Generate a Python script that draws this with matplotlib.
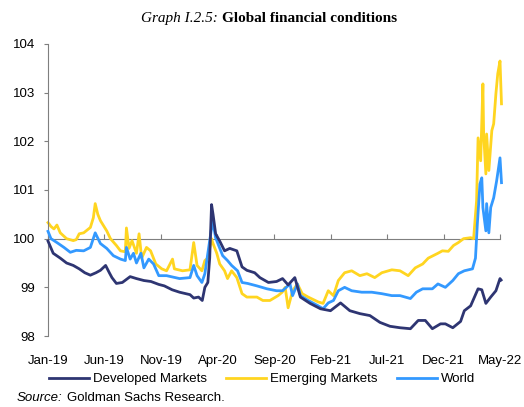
import matplotlib
matplotlib.use("Agg")
import matplotlib.pyplot as plt
import pandas as pd

plt.rcParams['font.family'] = ['Liberation Sans', 'DejaVu Sans']

# Developed Markets
dm_dates = ['2019-01-01', '2019-01-15', '2019-02-03', '2019-02-20', '2019-03-10', '2019-03-26',
            '2019-04-10', '2019-04-25', '2019-05-10', '2019-05-22', '2019-06-05', '2019-06-15',
            '2019-06-22', '2019-07-04', '2019-07-20', '2019-08-10', '2019-08-27', '2019-09-16',
            '2019-10-05', '2019-10-26', '2019-11-10', '2019-12-01', '2019-12-21', '2020-01-18',
            '2020-01-28', '2020-02-10', '2020-02-20', '2020-02-27', '2020-03-06', '2020-03-11',
            '2020-03-16', '2020-03-20', '2020-03-27', '2020-04-07', '2020-04-20', '2020-05-04',
            '2020-05-23', '2020-06-06', '2020-06-19', '2020-07-10', '2020-07-24', '2020-08-16',
            '2020-09-07', '2020-09-23', '2020-10-08', '2020-10-26', '2020-11-10', '2020-12-06',
            '2021-01-03', '2021-01-30', '2021-02-26', '2021-03-23', '2021-04-19', '2021-05-16',
            '2021-06-12', '2021-07-09', '2021-08-05', '2021-09-02', '2021-09-23', '2021-10-12',
            '2021-10-31', '2021-11-22', '2021-12-05', '2021-12-25', '2022-01-15', '2022-01-25',
            '2022-02-11', '2022-03-03', '2022-03-13', '2022-03-24', '2022-04-06', '2022-04-20',
            '2022-05-01', '2022-05-04']
dm_values = [99.95, 99.7, 99.6, 99.5, 99.45, 99.38,
             99.3, 99.25, 99.3, 99.35, 99.45, 99.3,
             99.2, 99.08, 99.1, 99.22, 99.18, 99.14,
             99.12, 99.06, 99.03, 98.95, 98.9, 98.85,
             98.78, 98.8, 98.73, 99.0, 99.1, 99.6,
             100.7, 100.5, 100.1, 99.95, 99.75, 99.8,
             99.75, 99.42, 99.35, 99.3, 99.2, 99.1,
             99.12, 99.18, 99.05, 99.2, 98.8, 98.67,
             98.56, 98.52, 98.68, 98.52, 98.46, 98.42,
             98.28, 98.2, 98.17, 98.15, 98.32, 98.32,
             98.15, 98.25, 98.25, 98.17, 98.3, 98.52,
             98.62, 98.97, 98.95, 98.67, 98.8, 98.93,
             99.18, 99.15]

# Emerging Markets
em_dates = ['2019-01-01', '2019-01-09', '2019-01-17', '2019-01-25', '2019-02-03', '2019-02-20',
            '2019-03-10', '2019-03-18', '2019-03-26', '2019-04-07', '2019-04-25', '2019-05-03',
            '2019-05-08', '2019-05-15', '2019-05-22', '2019-06-08', '2019-06-18', '2019-07-04',
            '2019-07-15', '2019-07-28', '2019-07-31', '2019-08-07', '2019-08-15', '2019-08-27',
            '2019-09-03', '2019-09-10', '2019-09-23', '2019-10-04', '2019-10-18', '2019-11-03',
            '2019-11-16', '2019-12-02', '2019-12-07', '2019-12-29', '2020-01-18', '2020-01-28',
            '2020-02-06', '2020-02-19', '2020-02-27', '2020-03-06', '2020-03-16', '2020-03-19',
            '2020-03-30', '2020-04-07', '2020-04-20', '2020-04-28', '2020-05-09', '2020-05-23',
            '2020-06-06', '2020-06-19', '2020-07-16', '2020-08-01', '2020-08-20', '2020-09-11',
            '2020-09-22', '2020-09-30', '2020-10-08', '2020-10-20', '2020-11-02', '2020-11-15',
            '2020-12-01', '2020-12-28', '2021-01-10', '2021-01-24', '2021-02-07', '2021-02-20',
            '2021-03-09', '2021-03-28', '2021-04-19', '2021-05-08', '2021-05-29', '2021-06-17',
            '2021-07-14', '2021-08-05', '2021-08-27', '2021-09-15', '2021-10-05', '2021-10-20',
            '2021-11-15', '2021-11-27', '2021-12-13', '2021-12-27', '2022-01-09', '2022-01-23',
            '2022-02-11', '2022-02-19', '2022-02-27', '2022-03-03', '2022-03-10', '2022-03-16',
            '2022-03-18', '2022-03-24', '2022-03-26', '2022-04-01', '2022-04-09', '2022-04-14',
            '2022-04-20', '2022-04-25', '2022-05-01', '2022-05-05']
em_values = [100.33, 100.25, 100.2, 100.28, 100.12, 100.0,
             99.96, 99.98, 100.1, 100.12, 100.23, 100.43,
             100.72, 100.5, 100.37, 100.16, 100.0, 99.86,
             99.75, 99.73, 100.22, 99.8, 99.96, 99.7,
             100.1, 99.6, 99.82, 99.75, 99.48, 99.38,
             99.34, 99.58, 99.38, 99.34, 99.36, 99.92,
             99.45, 99.34, 99.55, 99.6, 100.0, 99.92,
             99.7, 99.48, 99.34, 99.18, 99.34, 99.2,
             98.87, 98.8, 98.8, 98.73, 98.73, 98.83,
             98.9, 99.0, 98.58, 98.93, 99.07, 98.87,
             98.8, 98.7, 98.67, 98.93, 98.83, 99.14,
             99.3, 99.34, 99.24, 99.28, 99.2, 99.3,
             99.36, 99.34, 99.24, 99.4, 99.48, 99.6,
             99.7, 99.75, 99.74, 99.86, 99.92, 100.0,
             100.02, 100.0, 100.78, 102.07, 101.6, 103.18,
             102.15, 101.33, 102.15, 101.4, 102.22, 102.36,
             102.98, 103.39, 103.65, 102.77]

# World
wd_dates = ['2019-01-01', '2019-01-09', '2019-01-25', '2019-02-13', '2019-03-02', '2019-03-18',
            '2019-04-07', '2019-04-25', '2019-05-08', '2019-05-22', '2019-06-08', '2019-06-26',
            '2019-07-15', '2019-07-28', '2019-07-31', '2019-08-10', '2019-08-19', '2019-08-27',
            '2019-09-08', '2019-09-16', '2019-09-29', '2019-10-12', '2019-10-26', '2019-11-16',
            '2019-12-21', '2020-01-18', '2020-01-28', '2020-02-06', '2020-02-19', '2020-02-27',
            '2020-03-11', '2020-03-19', '2020-03-27', '2020-04-02', '2020-04-15', '2020-04-28',
            '2020-05-09', '2020-05-25', '2020-06-06', '2020-06-21', '2020-07-16', '2020-08-12',
            '2020-09-07', '2020-09-23', '2020-10-13', '2020-10-20', '2020-11-02', '2020-11-10',
            '2020-12-01', '2020-12-28', '2021-01-10', '2021-01-24', '2021-02-07', '2021-02-20',
            '2021-03-09', '2021-03-28', '2021-04-24', '2021-05-21', '2021-06-17', '2021-07-14',
            '2021-08-05', '2021-09-02', '2021-09-18', '2021-10-05', '2021-10-31', '2021-11-15',
            '2021-12-05', '2021-12-25', '2022-01-09', '2022-01-25', '2022-02-16', '2022-02-24',
            '2022-03-01', '2022-03-08', '2022-03-13', '2022-03-16', '2022-03-24', '2022-03-26',
            '2022-04-01', '2022-04-06', '2022-04-14', '2022-04-22', '2022-05-01', '2022-05-05']
wd_values = [100.15, 100.0, 99.92, 99.82, 99.72, 99.76,
             99.75, 99.82, 100.12, 99.9, 99.8, 99.65,
             99.58, 99.55, 99.82, 99.58, 99.7, 99.5,
             99.7, 99.4, 99.58, 99.48, 99.24, 99.24,
             99.18, 99.2, 99.45, 99.24, 99.1, 99.28,
             99.96, 100.37, 100.02, 99.9, 99.65, 99.55,
             99.45, 99.34, 99.1, 99.08, 99.03, 98.97,
             98.93, 98.93, 99.07, 98.83, 99.07, 98.83,
             98.73, 98.62, 98.56, 98.68, 98.73, 98.93,
             99.0, 98.93, 98.9, 98.9, 98.87, 98.83,
             98.83, 98.77, 98.9, 98.97, 98.97, 99.07,
             99.0, 99.14, 99.28, 99.34, 99.38, 99.6,
             100.3, 101.12, 101.25, 100.64, 100.16, 100.72,
             100.12, 100.64, 100.84, 101.19, 101.66, 101.15]

tick_dates = ['2019-01-01', '2019-06-01', '2019-11-01', '2020-04-01', '2020-09-01',
              '2021-02-01', '2021-07-01', '2021-12-01', '2022-05-01']
tick_labels = ['Jan-19', 'Jun-19', 'Nov-19', 'Apr-20', 'Sep-20', 'Feb-21', 'Jul-21', 'Dec-21', 'May-22']

navy = '#2E3572'
yellow = '#FFD520'
blue = '#3399FF'
grey = '#7F7F7F'

fig = plt.figure(figsize=(5.24, 4.07), dpi=100)
ax = fig.add_axes([0.0916, 0.1744, 0.8626, 0.7176])

ax.plot(pd.to_datetime(em_dates), em_values, color=yellow, lw=2.0, label='Emerging Markets',
        zorder=2, clip_on=False)
ax.plot(pd.to_datetime(wd_dates), wd_values, color=blue, lw=2.0, label='World',
        zorder=3, clip_on=False)
ax.plot(pd.to_datetime(dm_dates), dm_values, color=navy, lw=2.0, label='Developed Markets',
        zorder=4, clip_on=False)

ax.set_ylim(98, 104)
ax.set_yticks([98, 99, 100, 101, 102, 103, 104])
ax.set_xlim(pd.Timestamp('2019-01-01'), pd.Timestamp('2022-05-01'))
ax.set_xticks(pd.to_datetime(tick_dates))
ax.set_xticklabels(tick_labels)

# horizontal axis line crosses at 100, labels stay at the bottom
ax.spines['right'].set_visible(False)
ax.spines['bottom'].set_visible(False)
ax.spines['top'].set_position(('data', 100))
ax.spines['top'].set_color(grey)
ax.spines['top'].set_zorder(1)
ax.spines['left'].set_color(grey)
ax.tick_params(axis='x', top=True, bottom=False, labeltop=False, labelbottom=True,
               direction='out', length=3.5, color=grey, labelsize=9.5, pad=10)
ax.tick_params(axis='y', direction='out', length=3, color=grey, labelsize=9.5, pad=6)

handles, labels = ax.get_legend_handles_labels()
order = [2, 0, 1]
fig.legend([handles[i] for i in order], [labels[i] for i in order],
           loc='center', bbox_to_anchor=(0.5, 0.068), ncol=3, frameon=False,
           fontsize=9.5, handlelength=3.0, handletextpad=0.3, columnspacing=1.5)

fig.text(0.416, 0.955, 'Graph I.2.5:', ha='right', va='center', family='Liberation Serif',
         style='italic', fontsize=11)
fig.text(0.424, 0.955, 'Global financial conditions', ha='left', va='center',
         family='Liberation Serif', weight='bold', fontsize=11)

src = fig.text(0.032, 0.022, 'Source:', style='italic', fontsize=9.5, ha='left', va='center')
fig.canvas.draw()
bb = src.get_window_extent().transformed(fig.transFigure.inverted())
fig.text(bb.x1 + 0.008, 0.022, 'Goldman Sachs Research.', fontsize=9.5, ha='left', va='center')

fig.savefig('out.png', dpi=100)
